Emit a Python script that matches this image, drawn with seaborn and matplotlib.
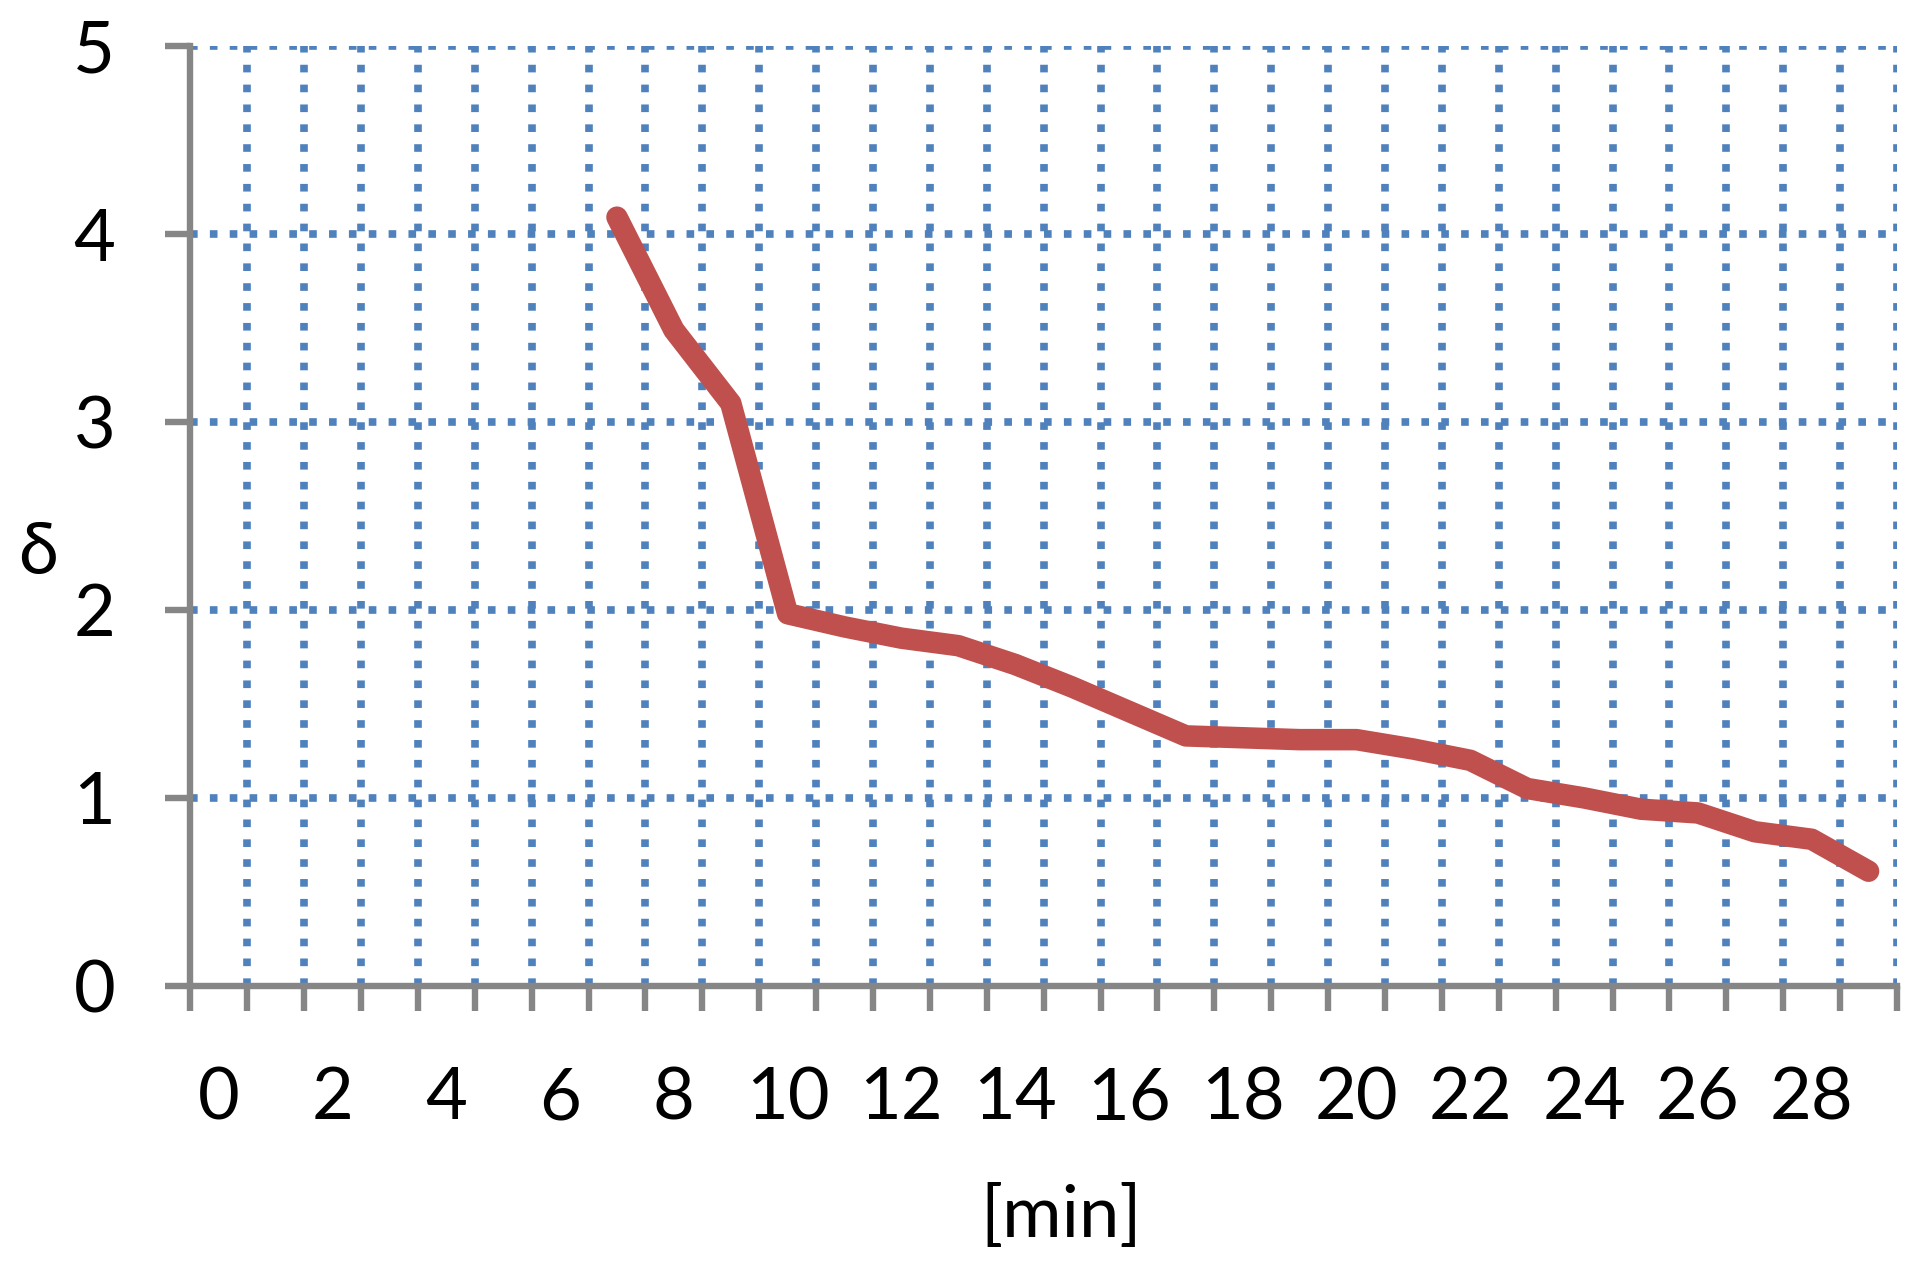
import matplotlib.pyplot as plt
import pandas as pd
import seaborn as sns
from matplotlib.ticker import FixedLocator

minutes = list(range(7, 30))
delta = [4.09, 3.49, 3.10, 1.98, 1.91, 1.85, 1.81, 1.71, 1.59, 1.46, 1.33, 1.32,
         1.31, 1.31, 1.26, 1.20, 1.05, 1.00, 0.94, 0.92, 0.82, 0.78, 0.61]
categories = list(range(0, 30))
x_tick_labels = ["0", "2", "4", "6", "8", "10", "12", "14", "16", "18", "20",
                 "22", "24", "26", "28"]
y_ticks = [0, 1, 2, 3, 4, 5]

GRID_BLUE = "#4F81BD"
LINE_RED = "#C0504D"
AXIS_GRAY = "#868686"

sns.set_theme(style="white")
plt.rcParams["font.family"] = ["Lato", "DejaVu Sans"]

df = pd.DataFrame({"min": minutes, "delta": delta})

fig = plt.figure(figsize=(19.22, 12.82), dpi=100)
ax = fig.add_axes([0.099, 0.231, 0.888, 0.733])

sns.lineplot(data=df, x="min", y="delta", color=LINE_RED, linewidth=15.5, ax=ax, zorder=3)
for ln in ax.lines:
    ln.set_solid_capstyle("round")
    ln.set_solid_joinstyle("round")

ax.set_xlim(categories[0] - 0.5, categories[-1] + 0.5)
ax.set_ylim(0, 5)

even_cats = categories[::2]
ax.xaxis.set_major_locator(FixedLocator(even_cats))
ax.set_xticklabels(x_tick_labels)
ax.xaxis.set_minor_locator(FixedLocator([c - 0.5 for c in categories] + [categories[-1] + 0.5]))
ax.set_yticks(y_ticks)

grid_kw = dict(color=GRID_BLUE, linestyle=(0, (1, 1.6)), linewidth=5.5)
ax.grid(which="minor", axis="x", **grid_kw)
ax.grid(which="major", axis="y", **grid_kw)
ax.grid(which="major", axis="x", visible=False)
ax.set_axisbelow(True)

# the gridlines lying on the axes themselves are hidden behind the spines in the original
ax.yaxis.get_major_ticks()[0].gridline.set_visible(False)
ax.xaxis.get_minor_ticks()[0].gridline.set_visible(False)

for side in ["top", "right"]:
    ax.spines[side].set_visible(False)
for side in ["left", "bottom"]:
    ax.spines[side].set_color(AXIS_GRAY)
    ax.spines[side].set_linewidth(4.6)
    ax.spines[side].set_zorder(4)

ax.tick_params(axis="x", which="major", length=0, pad=58, labelsize=52, labelcolor="black")
ax.tick_params(axis="x", which="minor", length=18, width=4.6, color=AXIS_GRAY, direction="out",
               bottom=True)
ax.tick_params(axis="y", which="major", length=18, width=4.6, color=AXIS_GRAY, direction="out",
               pad=36, labelsize=52, labelcolor="black", left=True)

ax.set_xlabel("[min]", fontsize=52, va="center", color="black")
ax.xaxis.set_label_coords(0.5105, -0.245)
ax.set_ylabel("δ", fontsize=52, rotation=0, va="center", ha="center", color="black")
ax.yaxis.set_label_coords(-0.0895, 0.46)

fig.savefig("out.png", dpi=100)
plt.close(fig)
